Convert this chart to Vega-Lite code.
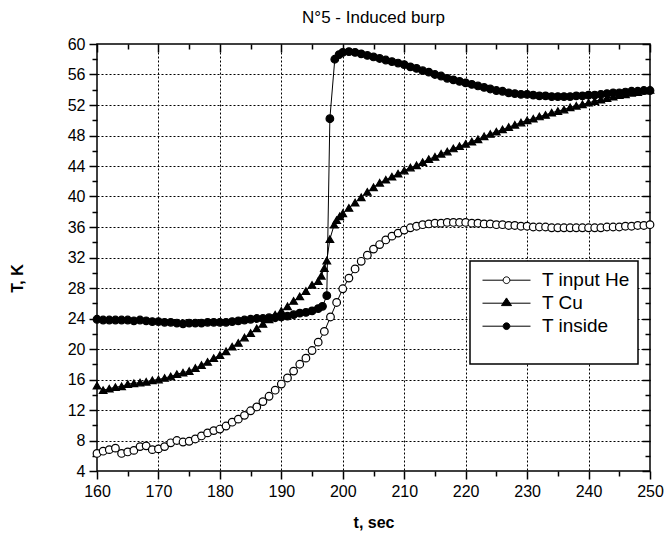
{
  "$schema": "https://vega.github.io/schema/vega-lite/v6.json",
  "width": 553,
  "height": 427,
  "autosize": {"type": "none"},
  "padding": {"left": 97, "top": 44, "right": 16, "bottom": 64},
  "background": "white",
  "title": {"text": "N°5 - Induced burp", "font": "Liberation Sans", "fontSize": 17, "fontWeight": "normal", "color": "black", "anchor": "middle", "offset": 9},
  "config": {"view": {"stroke": "black", "strokeWidth": 1.5}, "legend": {"strokeWidth": 1.5}},
  "data": {"values": [
    {"t":160,"He":6.3,"Cu":15.2,"In":23.9},
    {"t":161,"He":6.6,"Cu":14.6,"In":23.8},
    {"t":162,"He":6.8,"Cu":14.8,"In":23.8},
    {"t":163,"He":7.0,"Cu":15.0,"In":23.8},
    {"t":164,"He":6.3,"Cu":15.1,"In":23.8},
    {"t":165,"He":6.5,"Cu":15.4,"In":23.8},
    {"t":166,"He":6.7,"Cu":15.5,"In":23.7},
    {"t":167,"He":7.2,"Cu":15.6,"In":23.8},
    {"t":168,"He":7.3,"Cu":15.7,"In":23.7},
    {"t":169,"He":6.8,"Cu":15.9,"In":23.6},
    {"t":170,"He":6.9,"Cu":16.0,"In":23.6},
    {"t":171,"He":7.2,"Cu":16.2,"In":23.5},
    {"t":172,"He":7.7,"Cu":16.4,"In":23.5},
    {"t":173,"He":8.0,"Cu":16.7,"In":23.4},
    {"t":174,"He":7.8,"Cu":16.9,"In":23.3},
    {"t":175,"He":7.9,"Cu":17.1,"In":23.4},
    {"t":176,"He":8.2,"Cu":17.5,"In":23.4},
    {"t":177,"He":8.6,"Cu":17.9,"In":23.4},
    {"t":178,"He":9.0,"Cu":18.3,"In":23.5},
    {"t":179,"He":9.3,"Cu":18.8,"In":23.5},
    {"t":180,"He":9.5,"Cu":19.2,"In":23.5},
    {"t":181,"He":9.9,"Cu":19.7,"In":23.5},
    {"t":182,"He":10.4,"Cu":20.3,"In":23.6},
    {"t":183,"He":10.8,"Cu":20.8,"In":23.7},
    {"t":184,"He":11.3,"Cu":21.5,"In":23.8},
    {"t":185,"He":11.9,"Cu":22.1,"In":23.9},
    {"t":186,"He":12.4,"Cu":22.7,"In":24.0},
    {"t":187,"He":13.1,"Cu":23.3,"In":24.0},
    {"t":188,"He":13.8,"Cu":23.9,"In":24.1},
    {"t":189,"He":14.6,"Cu":24.5,"In":24.1},
    {"t":190,"He":15.4,"Cu":25.0,"In":24.2},
    {"t":191,"He":16.2,"Cu":25.6,"In":24.3},
    {"t":192,"He":17.1,"Cu":26.3,"In":24.5},
    {"t":193,"He":18.0,"Cu":26.9,"In":24.7},
    {"t":194,"He":18.8,"Cu":27.6,"In":24.8},
    {"t":195,"He":19.8,"Cu":28.4,"In":25.0},
    {"t":196,"He":20.9,"Cu":28.9,"In":25.3},
    {"t":196.5,"Cu":29.6},
    {"t":196.7,"In":25.6},
    {"t":197,"He":22.3,"Cu":30.6},
    {"t":197.4,"In":27.0,"Cu":31.6},
    {"t":197.9,"In":50.2,"Cu":34.4},
    {"t":198,"He":24.2},
    {"t":198.6,"Cu":36.3},
    {"t":198.7,"In":58.0},
    {"t":199,"He":26.1,"Cu":36.9},
    {"t":199.4,"In":58.6},
    {"t":199.5,"Cu":37.4},
    {"t":200,"He":27.9,"Cu":37.8,"In":58.9},
    {"t":201,"He":29.3,"Cu":38.5,"In":59.0},
    {"t":202,"He":30.5,"Cu":39.2,"In":58.9},
    {"t":203,"He":31.5,"Cu":39.9,"In":58.7},
    {"t":204,"He":32.3,"Cu":40.6,"In":58.5},
    {"t":205,"He":33.1,"Cu":41.2,"In":58.3},
    {"t":206,"He":33.7,"Cu":41.8,"In":58.1},
    {"t":207,"He":34.3,"Cu":42.2,"In":57.9},
    {"t":208,"He":34.8,"Cu":42.6,"In":57.7},
    {"t":209,"He":35.2,"Cu":43.0,"In":57.5},
    {"t":210,"He":35.6,"Cu":43.4,"In":57.3},
    {"t":211,"He":35.9,"Cu":43.8,"In":57.0},
    {"t":212,"He":36.1,"Cu":44.1,"In":56.8},
    {"t":213,"He":36.3,"Cu":44.5,"In":56.5},
    {"t":214,"He":36.4,"Cu":44.9,"In":56.3},
    {"t":215,"He":36.5,"Cu":45.2,"In":56.0},
    {"t":216,"He":36.5,"Cu":45.6,"In":55.8},
    {"t":217,"He":36.6,"Cu":45.9,"In":55.5},
    {"t":218,"He":36.6,"Cu":46.3,"In":55.3},
    {"t":219,"He":36.6,"Cu":46.6,"In":55.1},
    {"t":220,"He":36.6,"Cu":46.9,"In":54.9},
    {"t":221,"He":36.5,"Cu":47.2,"In":54.7},
    {"t":222,"He":36.5,"Cu":47.5,"In":54.5},
    {"t":223,"He":36.4,"Cu":47.9,"In":54.3},
    {"t":224,"He":36.4,"Cu":48.2,"In":54.1},
    {"t":225,"He":36.3,"Cu":48.5,"In":53.9},
    {"t":226,"He":36.3,"Cu":48.8,"In":53.8},
    {"t":227,"He":36.2,"Cu":49.1,"In":53.6},
    {"t":228,"He":36.2,"Cu":49.4,"In":53.5},
    {"t":229,"He":36.1,"Cu":49.7,"In":53.4},
    {"t":230,"He":36.1,"Cu":50.0,"In":53.4},
    {"t":231,"He":36.0,"Cu":50.2,"In":53.3},
    {"t":232,"He":36.0,"Cu":50.5,"In":53.2},
    {"t":233,"He":36.0,"Cu":50.7,"In":53.2},
    {"t":234,"He":35.9,"Cu":51.0,"In":53.1},
    {"t":235,"He":35.9,"Cu":51.2,"In":53.1},
    {"t":236,"He":35.9,"Cu":51.4,"In":53.1},
    {"t":237,"He":35.9,"Cu":51.7,"In":53.1},
    {"t":238,"He":35.9,"Cu":51.9,"In":53.2},
    {"t":239,"He":35.9,"Cu":52.1,"In":53.2},
    {"t":240,"He":35.9,"Cu":52.3,"In":53.3},
    {"t":241,"He":35.9,"Cu":52.5,"In":53.3},
    {"t":242,"He":35.9,"Cu":52.7,"In":53.4},
    {"t":243,"He":36.0,"Cu":52.9,"In":53.5},
    {"t":244,"He":36.0,"Cu":53.1,"In":53.6},
    {"t":245,"He":36.0,"Cu":53.3,"In":53.6},
    {"t":246,"He":36.1,"Cu":53.4,"In":53.7},
    {"t":247,"He":36.1,"Cu":53.6,"In":53.8},
    {"t":248,"He":36.2,"Cu":53.7,"In":53.8},
    {"t":249,"He":36.2,"Cu":53.9,"In":53.9},
    {"t":250,"He":36.3,"Cu":54.0,"In":53.9}
  ]},
  "transform": [
    {"fold": ["He", "Cu", "In"], "as": ["s", "T"]},
    {"filter": "isValid(datum.T)"}
  ],
  "resolve": {
    "scale": {"shape": "independent", "fill": "independent", "stroke": "independent"},
    "axis": {"x": "independent", "y": "independent"}
  },
  "layer": [
    {
      "mark": {"type": "line", "color": "black", "strokeWidth": 1},
      "encoding": {
        "x": {
          "field": "t", "type": "quantitative",
          "scale": {"domain": [160, 250], "nice": false, "zero": false},
          "axis": {
            "orient": "bottom",
            "values": [160,165,170,175,180,185,190,195,200,205,210,215,220,225,230,235,240,245,250],
            "labelExpr": "datum.value % 10 === 0 ? datum.label : ''",
            "labelFont": "Liberation Sans", "labelFontSize": 16, "labelColor": "black",
            "labelPadding": 4, "labelFlush": false, "labelOverlap": false,
            "domain": false,
            "tickColor": "black", "tickWidth": 1.5,
            "tickSize": {"condition": {"test": "datum.value % 10 === 0", "value": 8}, "value": 5},
            "grid": true, "gridColor": "black", "gridWidth": 1, "gridDash": [2, 2],
            "gridOpacity": {"condition": {"test": "datum.value % 10 === 0 && datum.value > 160 && datum.value < 250", "value": 1}, "value": 0},
            "title": "t, sec", "titleFont": "Liberation Sans", "titleFontSize": 16, "titleFontWeight": "bold", "titleColor": "black", "titlePadding": 15
          }
        },
        "y": {
          "field": "T", "type": "quantitative",
          "scale": {"domain": [4, 60], "nice": false, "zero": false},
          "axis": {
            "orient": "left",
            "values": [4,6,8,10,12,14,16,18,20,22,24,26,28,30,32,34,36,38,40,42,44,46,48,50,52,54,56,58,60],
            "labelExpr": "datum.value % 4 === 0 ? datum.label : ''",
            "labelFont": "Liberation Sans", "labelFontSize": 16, "labelColor": "black",
            "labelPadding": 4, "labelFlush": false, "labelOverlap": false,
            "domain": false,
            "tickColor": "black", "tickWidth": 1.5,
            "tickSize": {"condition": {"test": "datum.value % 4 === 0", "value": 8}, "value": 5},
            "grid": true, "gridColor": "black", "gridWidth": 1, "gridDash": [2, 2],
            "gridOpacity": {"condition": {"test": "datum.value % 4 === 0 && datum.value > 4 && datum.value < 60", "value": 1}, "value": 0},
            "title": "T, K", "titleFont": "Liberation Sans", "titleFontSize": 16, "titleFontWeight": "bold", "titleColor": "black",
            "titleX": -80, "titleY": 234, "titleBaseline": "middle"
          }
        },
        "detail": {"field": "s", "type": "nominal"}
      }
    },
    {
      "mark": {"type": "point", "filled": true, "stroke": "black", "strokeWidth": 1.2, "size": 58, "opacity": 1},
      "encoding": {
        "x": {
          "field": "t", "type": "quantitative",
          "scale": {"domain": [160, 250], "nice": false, "zero": false},
          "axis": {
            "orient": "top",
            "values": [160,165,170,175,180,185,190,195,200,205,210,215,220,225,230,235,240,245,250],
            "labels": false, "domain": false, "grid": false, "title": null,
            "tickColor": "black", "tickWidth": 1.5,
            "tickSize": {"condition": {"test": "datum.value % 10 === 0", "value": -8}, "value": -5}
          }
        },
        "y": {
          "field": "T", "type": "quantitative",
          "scale": {"domain": [4, 60], "nice": false, "zero": false},
          "axis": {
            "orient": "right",
            "values": [4,6,8,10,12,14,16,18,20,22,24,26,28,30,32,34,36,38,40,42,44,46,48,50,52,54,56,58,60],
            "labels": false, "domain": false, "grid": false, "title": null,
            "tickColor": "black", "tickWidth": 1.5,
            "tickSize": {"condition": {"test": "datum.value % 4 === 0", "value": -8}, "value": -5}
          }
        },
        "shape": {"field": "s", "type": "nominal", "scale": {"domain": ["He", "Cu", "In"], "range": ["circle", "triangle-up", "circle"]}, "legend": null},
        "fill": {"field": "s", "type": "nominal", "scale": {"domain": ["He", "Cu", "In"], "range": ["white", "black", "black"]}, "legend": null}
      }
    },
    {
      "transform": [{"filter": "datum.t < 0"}],
      "mark": {"type": "point", "filled": true, "strokeWidth": 1, "size": 2304, "opacity": 1},
      "encoding": {
        "x": {"field": "t", "type": "quantitative", "scale": {"domain": [160, 250], "nice": false, "zero": false}, "axis": null},
        "y": {"field": "T", "type": "quantitative", "scale": {"domain": [4, 60], "nice": false, "zero": false}, "axis": null},
        "shape": {
          "field": "s", "type": "nominal",
          "scale": {"domain": ["He", "Cu", "In"], "range": [
            "M-1,0H-0.14M0.14,0H1M-0.14,0A0.14,0.14,0,1,0,0.14,0A0.14,0.14,0,1,0,-0.14,0Z",
            "M-1,0H1M-0.21,0.1L0,-0.22L0.21,0.1Z",
            "M-1,0H-0.14M0.14,0H1M-0.14,0A0.14,0.14,0,1,0,0.14,0A0.14,0.14,0,1,0,-0.14,0Z"
          ]},
          "legend": {
            "orient": "none", "legendX": 373, "legendY": 217,
            "title": " ", "titleOrient": "bottom", "titleFontSize": 14, "titlePadding": 5,
            "strokeColor": "black", "fillColor": "white", "padding": 8,
            "labelFont": "Liberation Sans", "labelFontSize": 19, "labelColor": "black",
            "labelExpr": "datum.label === 'He' ? 'T input He' : datum.label === 'Cu' ? 'T Cu' : 'T inside'",
            "symbolSize": 2304, "symbolStrokeWidth": 1, "symbolOffset": 4,
            "clipHeight": 22.4, "labelOffset": 11, "rowPadding": 0
          }
        },
        "fill": {
          "field": "s", "type": "nominal",
          "scale": {"domain": ["He", "Cu", "In"], "range": ["white", "black", "black"]},
          "legend": {
            "orient": "none", "legendX": 373, "legendY": 217,
            "title": " ", "titleOrient": "bottom", "titleFontSize": 14, "titlePadding": 5,
            "strokeColor": "black", "fillColor": "white", "padding": 8,
            "labelFont": "Liberation Sans", "labelFontSize": 19, "labelColor": "black",
            "labelExpr": "datum.label === 'He' ? 'T input He' : datum.label === 'Cu' ? 'T Cu' : 'T inside'",
            "symbolSize": 2304, "symbolStrokeWidth": 1, "symbolOffset": 4,
            "clipHeight": 22.4, "labelOffset": 11, "rowPadding": 0
          }
        },
        "stroke": {
          "field": "s", "type": "nominal",
          "scale": {"domain": ["He", "Cu", "In"], "range": ["black", "black", "black"]},
          "legend": {
            "orient": "none", "legendX": 373, "legendY": 217,
            "title": " ", "titleOrient": "bottom", "titleFontSize": 14, "titlePadding": 5,
            "strokeColor": "black", "fillColor": "white", "padding": 8,
            "labelFont": "Liberation Sans", "labelFontSize": 19, "labelColor": "black",
            "labelExpr": "datum.label === 'He' ? 'T input He' : datum.label === 'Cu' ? 'T Cu' : 'T inside'",
            "symbolSize": 2304, "symbolStrokeWidth": 1, "symbolOffset": 4,
            "clipHeight": 22.4, "labelOffset": 11, "rowPadding": 0
          }
        }
      }
    }
  ]
}
